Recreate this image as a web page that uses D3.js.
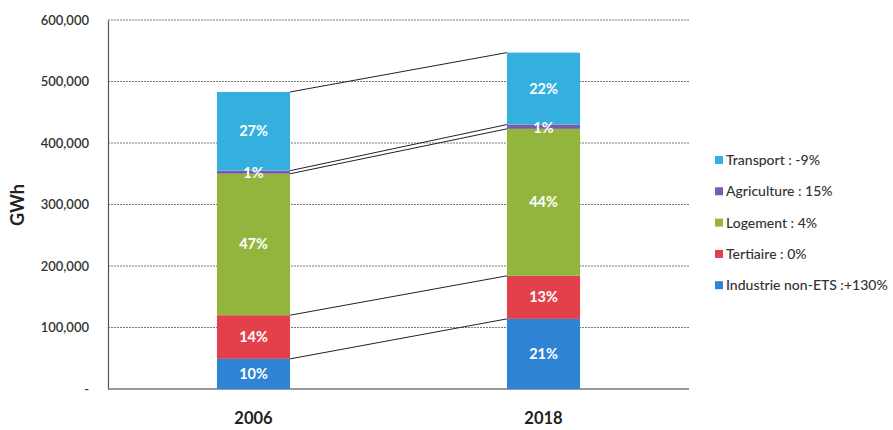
<!DOCTYPE html>
<html><head><meta charset="utf-8">
<script src="https://cdn.jsdelivr.net/npm/d3@7"></script>
<style>body{margin:0;background:#fff}</style>
</head><body>
<svg id="c" width="893" height="430"></svg>
<script>
const years = ["2006", "2018"];
const sectors = ["Industrie non-ETS", "Tertiaire", "Logement", "Agriculture", "Transport"];
const industrie = [49000, 114000];
const tertiaire = [71000, 70000];
const logement = [230000, 239000];
const agriculture = [5000, 7000];
const transport = [128000, 117000];
const pctIndustrie = ["10%", "21%"];
const pctTertiaire = ["14%", "13%"];
const pctLogement = ["47%", "44%"];
const pctAgriculture = ["1%", "1%"];
const pctTransport = ["27%", "22%"];
const legendLabels = ["Transport : -9%", "Agriculture : 15%", "Logement : 4%", "Tertiaire : 0%", "Industrie non-ETS :+130%"];
const legendKeys = ["Transport", "Agriculture", "Logement", "Tertiaire", "Industrie non-ETS"];
const yTicks = [0, 100000, 200000, 300000, 400000, 500000, 600000];
const colors = {"Industrie non-ETS":"#2e83d4","Tertiaire":"#e2414b","Logement":"#93b53e","Agriculture":"#7b5ba7","Transport":"#35b0de"};

const values = [industrie, tertiaire, logement, agriculture, transport];
const pcts = [pctIndustrie, pctTertiaire, pctLogement, pctAgriculture, pctTransport];
const rows = years.map((yr, i) => {
  const r = {year: yr};
  sectors.forEach((s, k) => r[s] = values[k][i]);
  return r;
});
const stack = d3.stack().keys(sectors)(rows);

const svg = d3.select("#c");
const mL = 108, mR = 689, mT = 20, mB = 389;
const y = d3.scaleLinear().domain([0, 600000]).range([mB, mT]);
const x = d3.scaleBand().domain(years).range([mL, mR]).paddingInner(0.748).paddingOuter(0.3757);
const bw = x.bandwidth();
const cx = yr => x(yr) + bw / 2;

const font = "Lato, 'Open Sans', sans-serif";

// gridlines
svg.append("g").selectAll("line").data(yTicks.filter(t => t > 0)).join("line")
  .attr("x1", mL).attr("x2", mR).attr("y1", d => y(d)).attr("y2", d => y(d))
  .attr("stroke", "#777").attr("stroke-width", 1).attr("stroke-dasharray", "2,1");

// y axis
const yAxis = d3.axisLeft(y).tickValues(yTicks).tickSize(0).tickPadding(19)
  .tickFormat(d => d === 0 ? "-" : d3.format(",")(d));
const ga = svg.append("g").attr("transform", `translate(${mL},0)`).call(yAxis);
ga.select(".domain").attr("stroke", "#555").attr("stroke-width", 1.2);
ga.selectAll("text").attr("font-family", font).attr("font-size", 13).attr("font-weight", 600).attr("fill", "#333");

// x axis line
svg.append("line").attr("x1", mL).attr("x2", mR).attr("y1", mB).attr("y2", mB)
  .attr("stroke", "#777").attr("stroke-width", 1.3);

// connectors
const conn = svg.append("g");
stack.forEach(layer => {
  conn.append("line")
    .attr("x1", x(years[0]) + bw).attr("y1", y(layer[0][1]))
    .attr("x2", x(years[1])).attr("y2", y(layer[1][1]))
    .attr("stroke", "#222").attr("stroke-width", 1);
});

// bars
stack.forEach(layer => {
  svg.append("g").selectAll("rect").data(layer).join("rect")
    .attr("x", d => x(d.data.year)).attr("width", bw)
    .attr("y", d => y(d[1])).attr("height", d => y(d[0]) - y(d[1]))
    .attr("fill", colors[layer.key]);
});
// labels
stack.forEach((layer, k) => {
  layer.forEach((d, i) => {
    svg.append("text").attr("x", cx(d.data.year)).attr("y", (y(d[0]) + y(d[1])) / 2 + 5 + (layer.key === "Agriculture" ? 1 : 0))
      .attr("text-anchor", "middle").attr("font-family", font).attr("font-size", 14.5).attr("font-weight", 700)
      .attr("fill", "#fff").text(pcts[k][i]);
  });
});

// x labels
years.forEach(yr => {
  svg.append("text").attr("x", cx(yr)).attr("y", 424).attr("text-anchor", "middle")
    .attr("font-family", font).attr("font-size", 16.5).attr("font-weight", 700).attr("fill", "#222").text(yr);
});

// y title
svg.append("text").attr("transform", "translate(24,205) rotate(-90)").attr("text-anchor", "middle")
  .attr("font-family", font).attr("font-size", 18).attr("font-weight", 700).attr("fill", "#222").text("GWh");

// legend
const lg = svg.append("g");
legendKeys.forEach((k, i) => {
  const ly = 160 + i * 31.3;
  lg.append("rect").attr("x", 715).attr("y", ly - 4).attr("width", 8).attr("height", 8).attr("fill", colors[k]);
  lg.append("text").attr("x", 726).attr("y", ly + 5).attr("font-family", font).attr("font-size", 14)
    .attr("font-weight", 500).attr("fill", "#333").text(legendLabels[i]);
});
</script>
</body></html>
